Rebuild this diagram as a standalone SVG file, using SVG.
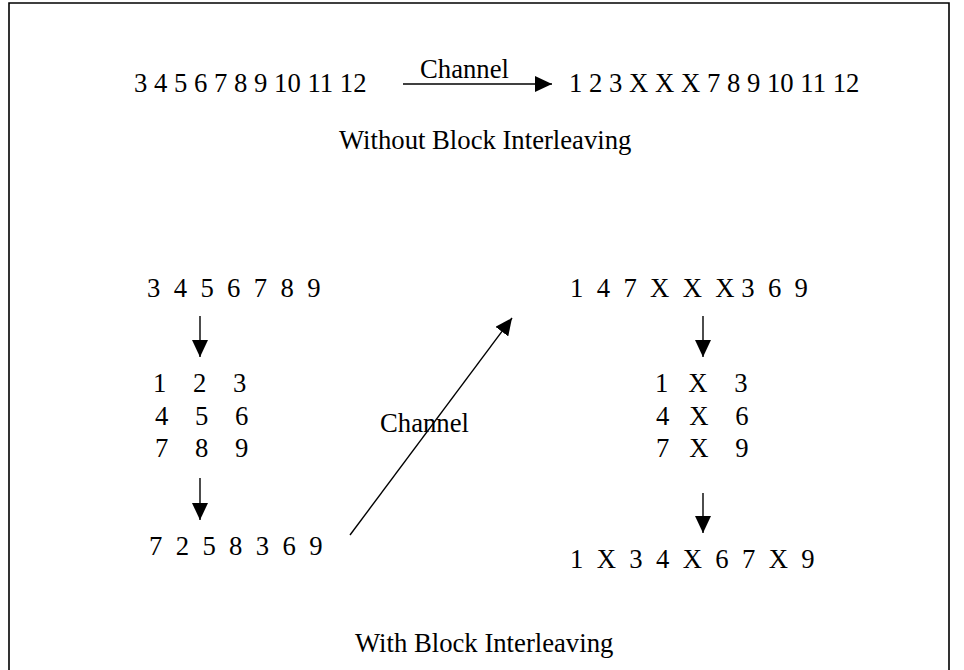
<svg xmlns="http://www.w3.org/2000/svg" width="964" height="670" viewBox="0 0 964 670">
<style>
text{font-family:"Liberation Serif","Times New Roman",serif;font-size:26.7px;fill:#000;white-space:pre}
.frame{fill:none;stroke:#000;stroke-width:1.6}
.conn{stroke:#000;stroke-width:1.4;fill:none;marker-end:url(#ah)}
</style>
<defs>
<marker id="ah" markerUnits="userSpaceOnUse" markerWidth="17" markerHeight="16" viewBox="0 0 17 16" refX="17" refY="8" orient="auto">
<path d="M0,0 L17,8 L0,16 z" fill="#000"/>
</marker>
</defs>
<rect width="964" height="670" fill="#fff"/>
<path class="frame" d="M9,672 L9,3 L949,3 L949,672"/>
<g id="connectors">
<line class="conn" x1="403" y1="84" x2="552" y2="84"/>
<line class="conn" x1="200" y1="316" x2="200" y2="357"/>
<line class="conn" x1="200" y1="478" x2="200" y2="520"/>
<line class="conn" x1="350" y1="535" x2="512" y2="318"/>
<line class="conn" x1="703" y1="316" x2="703" y2="357"/>
<line class="conn" x1="703" y1="493" x2="703" y2="533"/>
</g>
<g id="top-input"><text x="134" y="92" xml:space="preserve">3 4 5 6 7 8 9 10 11 12</text></g>
<g id="top-channel-label"><text x="420" y="78">Channel</text></g>
<g id="top-output"><text x="569" y="92" xml:space="preserve">1 2 3 X X X 7 8 9 10 11 12</text></g>
<g id="title-without"><text x="339" y="149">Without Block Interleaving</text></g>
<g id="left-input"><text x="147" y="297" xml:space="preserve">3  4  5  6  7  8  9</text></g>
<g id="left-matrix">
<text x="153" y="392" xml:space="preserve">1    2    3</text>
<text x="155" y="425" xml:space="preserve">4    5    6</text>
<text x="155" y="457" xml:space="preserve">7    8    9</text>
</g>
<g id="left-output"><text x="149" y="555" xml:space="preserve">7  2  5  8  3  6  9</text></g>
<g id="mid-channel-label"><text x="380" y="432">Channel</text></g>
<g id="right-input"><text x="570" y="297" xml:space="preserve">1  4  7  X  X  X 3  6  9</text></g>
<g id="right-matrix">
<text x="655" y="392" xml:space="preserve">1   X    3</text>
<text x="656" y="425" xml:space="preserve">4   X    6</text>
<text x="656" y="457" xml:space="preserve">7   X    9</text>
</g>
<g id="right-output"><text x="570" y="568" xml:space="preserve">1  X  3  4  X  6  7  X  9</text></g>
<g id="title-with"><text x="355" y="652">With Block Interleaving</text></g>
</svg>
